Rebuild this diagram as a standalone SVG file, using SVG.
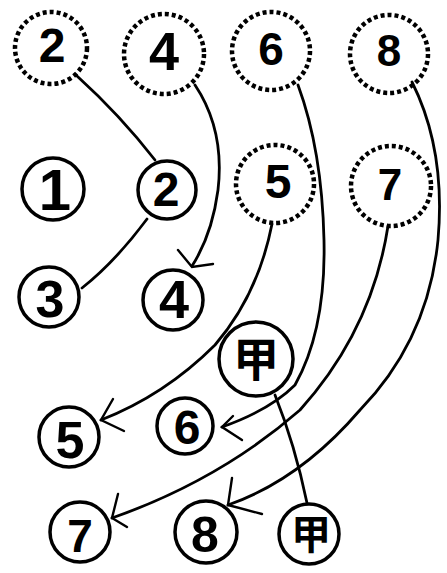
<svg xmlns="http://www.w3.org/2000/svg" width="447" height="573" viewBox="0 0 447 573">
<defs>
<style>
.bg{fill:#fff}
.dash{fill:none;stroke:#000;stroke-width:4.5;stroke-dasharray:4 3}
.solid{fill:none;stroke:#000;stroke-width:3.5}
.lbl{font-family:"Liberation Sans","Noto Sans CJK SC",sans-serif;font-weight:bold;text-anchor:middle;dominant-baseline:central;fill:#000}
.cjk{font-family:"Noto Sans CJK SC","Noto Sans CJK JP",sans-serif;font-weight:bold;text-anchor:middle;dominant-baseline:central;fill:#000}
.edge{fill:none;stroke:#000;stroke-width:2.8;stroke-linecap:round}
.tick{fill:none;stroke:#000;stroke-width:2.4;stroke-linecap:round}
</style>
</defs>
<rect class="bg" width="447" height="573"/>
<g id="connectors">
<path class="edge" d="M77 76 Q120 115 155 160"/>
<path class="edge" d="M147 219 Q115 262 82 288"/>
<path class="edge" d="M195 85 Q225 130 218 190 Q212 235 192 266"/>
<path class="tick" d="M178 250 L192 267 L213 264"/>
<path class="edge" d="M298 85 Q322 150 324 240 Q326 330 295 385 Q270 410 222 427"/>
<path class="tick" d="M233 416 L222 427 L242 440"/>
<path class="edge" d="M412 82 Q446 150 438 240 Q428 340 360 410 Q300 480 228 505"/>
<path class="tick" d="M232 478 L228 505 L262 514"/>
<path class="edge" d="M272 224 Q258 295 215 345 Q165 395 101 420"/>
<path class="tick" d="M113 399 L101 420 L124 431"/>
<path class="edge" d="M388 226 Q372 330 300 410 Q220 480 112 518"/>
<path class="tick" d="M118 494 L112 518 L127 527"/>
<path class="edge" d="M275 395 Q295 445 307 503"/>
</g>
<g id="n-top2"><circle class="dash" cx="51" cy="48" r="36"/><text class="lbl" x="52" y="45" font-size="48">2</text></g>
<g id="n-top4"><circle class="dash" cx="164" cy="54" r="40"/><text class="lbl" x="164" y="51" font-size="54">4</text></g>
<g id="n-top6"><circle class="dash" cx="271" cy="51" r="39"/><text class="lbl" x="271" y="49" font-size="46">6</text></g>
<g id="n-top8"><circle class="dash" cx="389" cy="54" r="39"/><text class="lbl" x="389" y="50" font-size="44">8</text></g>
<g id="n-1"><circle class="solid" cx="53" cy="189" r="31"/><text class="lbl" x="55" y="189" font-size="58">1</text></g>
<g id="n-2"><circle class="solid" cx="167" cy="190" r="29"/><text class="lbl" x="166" y="189" font-size="48">2</text></g>
<g id="n-mid5"><circle class="dash" cx="275" cy="184" r="39"/><text class="lbl" x="278" y="181" font-size="48">5</text></g>
<g id="n-mid7"><circle class="dash" cx="391" cy="186" r="40"/><text class="lbl" x="390" y="184" font-size="44">7</text></g>
<g id="n-3"><circle class="solid" cx="49" cy="297" r="30"/><text class="lbl" x="50" y="299" font-size="52">3</text></g>
<g id="n-4"><circle class="solid" cx="173" cy="300" r="30"/><text class="lbl" x="174" y="299" font-size="54">4</text></g>
<g id="n-jia1"><circle class="solid" cx="256" cy="359" r="37"/><text class="cjk" x="256" y="356" font-size="46">甲</text></g>
<g id="n-5"><circle class="solid" cx="69" cy="437" r="30"/><text class="lbl" x="70" y="440" font-size="52">5</text></g>
<g id="n-6"><circle class="solid" cx="185" cy="426" r="28"/><text class="lbl" x="187" y="427" font-size="48">6</text></g>
<g id="n-7"><circle class="solid" cx="80" cy="532" r="30"/><text class="lbl" x="80" y="536" font-size="46">7</text></g>
<g id="n-8"><circle class="solid" cx="206" cy="532" r="31"/><text class="lbl" x="205" y="535" font-size="50">8</text></g>
<g id="n-jia2"><circle class="solid" cx="309" cy="534" r="30"/><text class="cjk" x="311" y="532" font-size="40">甲</text></g>
</svg>
